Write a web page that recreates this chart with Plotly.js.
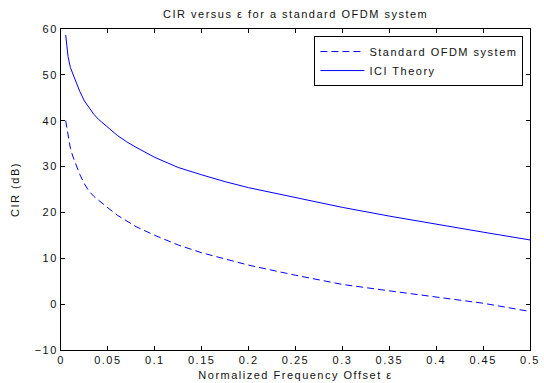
<!DOCTYPE html>
<html>
<head>
<meta charset="utf-8">
<script src="https://cdn.plot.ly/plotly-3.0.1.min.js"></script>
<style>
html,body{margin:0;padding:0;background:#fff;}
#chart{width:544px;height:383px;}
svg text{letter-spacing:1.5px;}
</style>
</head>
<body>
<div id="chart"></div>
<script>
const epsilon = [0.005, 0.0075, 0.01, 0.0125, 0.015, 0.02, 0.025, 0.03, 0.035, 0.04, 0.05, 0.06, 0.07, 0.08, 0.1, 0.125, 0.15, 0.175, 0.2, 0.25, 0.3, 0.35, 0.4, 0.45, 0.5];
const standardOFDM = [40.0, 36.8, 34.0, 32.3, 30.9, 28.3, 26.2, 24.6, 23.5, 22.6, 21.0, 19.4, 18.1, 16.9, 15.0, 12.9, 11.2, 9.8, 8.5, 6.3, 4.3, 2.9, 1.5, 0.2, -1.6];
const iciTheory = [58.7, 54.0, 51.6, 50.2, 49.0, 46.4, 44.3, 42.7, 41.4, 40.3, 38.6, 36.8, 35.4, 34.2, 32.0, 29.8, 28.2, 26.7, 25.4, 23.3, 21.1, 19.2, 17.4, 15.7, 14.0];
const xTicks = [0, 0.05, 0.1, 0.15, 0.2, 0.25, 0.3, 0.35, 0.4, 0.45, 0.5];
const xTickLabels = ['0', '0.05', '0.1', '0.15', '0.2', '0.25', '0.3', '0.35', '0.4', '0.45', '0.5'];
const yTicks = [-10, 0, 10, 20, 30, 40, 50, 60];

const font = {family: 'Liberation Sans, Arial, sans-serif', size: 11, color: '#111'};
const traces = [
  {x: epsilon, y: standardOFDM, type: 'scatter', mode: 'lines', name: 'Standard OFDM system',
   line: {color: '#0000ff', width: 1, dash: '7px,4px'}},
  {x: epsilon, y: iciTheory, type: 'scatter', mode: 'lines', name: 'ICI Theory',
   line: {color: '#0000ff', width: 1}}
];
const axisCommon = {showline: true, linecolor: '#000', linewidth: 1, mirror: 'ticks', ticks: 'inside',
  ticklen: 4, tickcolor: '#000', showgrid: false, zeroline: false, tickfont: font};
const layout = {
  width: 544, height: 383,
  margin: {l: 61, r: 14, t: 29, b: 33},
  paper_bgcolor: '#fff', plot_bgcolor: '#fff',
  font: font,
  title: {text: 'CIR versus ε for a standard OFDM system', font: font, x: 0.5435, xanchor: 'center', y: 0.962, yanchor: 'middle'},
  xaxis: Object.assign({}, axisCommon, {range: [0, 0.5], tickvals: xTicks, ticktext: xTickLabels,
    title: {text: 'Normalized Frequency Offset ε', font: font, standoff: 6}, automargin: false}),
  yaxis: Object.assign({}, axisCommon, {range: [-10, 60], tickvals: yTicks,
    title: {text: 'CIR (dB)', font: font, standoff: 12}, automargin: false}),
  legend: {x: 0.986, xanchor: 'right', y: 0.978, yanchor: 'top', bgcolor: '#fff', bordercolor: '#000', borderwidth: 1,
    font: font, tracegroupgap: 0, itemwidth: 44},
  showlegend: true
};
Plotly.newPlot('chart', traces, layout, {staticPlot: true, displayModeBar: false});
</script>
</body>
</html>
